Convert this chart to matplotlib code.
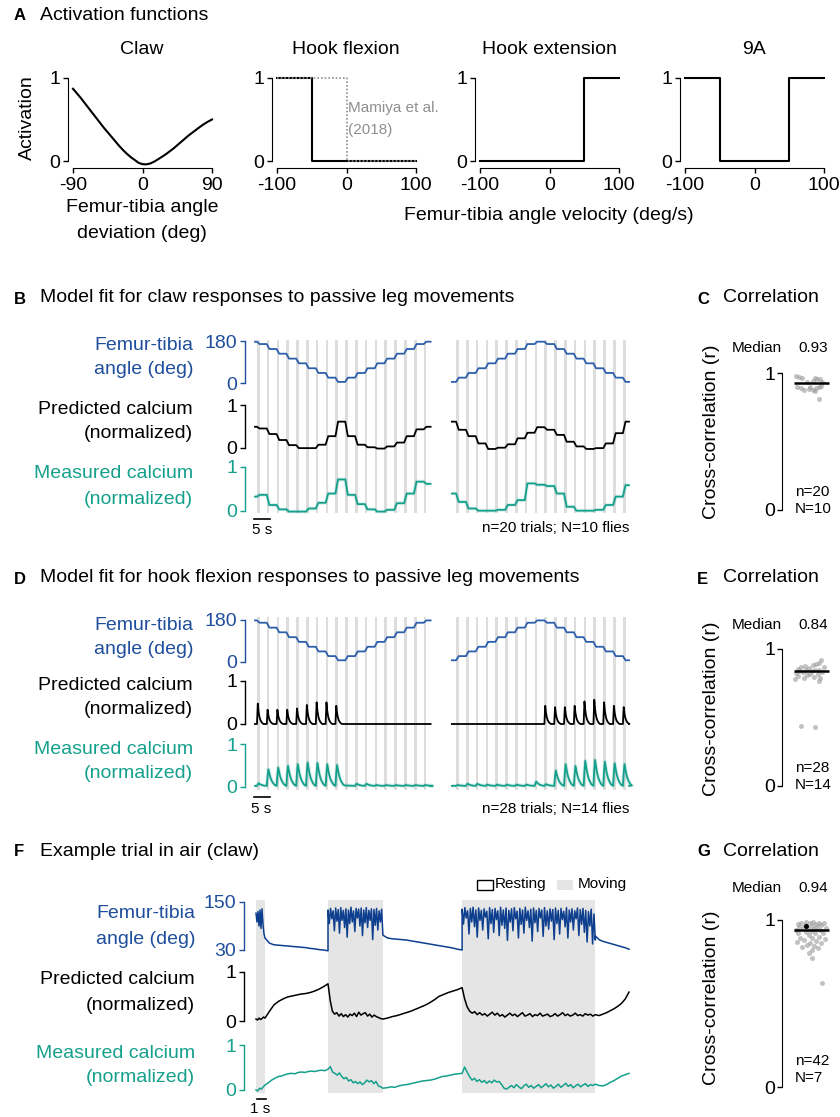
import numpy as np
import matplotlib
matplotlib.use("Agg")
import matplotlib.pyplot as plt
from matplotlib.patches import Rectangle

plt.rcParams['font.family'] = ['Liberation Sans', 'DejaVu Sans']
plt.rcParams['axes.unicode_minus'] = False

# ======================= DATA =======================
# --- A: activation functions ---
claw_dev = [-90, -85, -80, -75, -70, -65, -60, -55, -50, -45, -40, -35, -30, -25, -20, -15, -10,
            -5, 0, 5, 10, 15, 20, 25, 30, 35, 40, 45, 50, 55, 60, 65, 70, 75, 80, 85, 90]
claw_act = [0.87, 0.815, 0.76, 0.70, 0.64, 0.58, 0.52, 0.46, 0.40, 0.345, 0.29, 0.235, 0.18,
            0.13, 0.085, 0.045, 0.012, -0.022, -0.038, -0.04, -0.03, -0.008, 0.02, 0.05, 0.08,
            0.115, 0.15, 0.19, 0.23, 0.27, 0.31, 0.345, 0.38, 0.415, 0.447, 0.475, 0.50]
flex_vel = [-100, -50, -50, 100]
flex_act = [1, 1, 0, 0]
mamiya_vel = [-100, 0, 0, 100]
mamiya_act = [1, 1, 0, 0]
ext_vel = [-100, 50, 50, 100]
ext_act = [0, 0, 1, 1]
a9_vel = [-100, -50, -50, 50, 50, 100]
a9_act = [1, 1, 0, 0, 1, 1]

# --- B / D: passive movement protocol (time in s) ---
block_start = [0.0, 60.2]
block_end = [53.7, 114.37]
first_move = [0.6, 61.5]
move_period = 3.0
n_moves = 18
move_dur = 0.8

B_angle = [[177, 167, 146, 126, 105, 85, 64, 44, 24, 6, 24, 44, 64, 85, 105, 126, 146, 167, 177],
           [6, 24, 44, 64, 85, 105, 126, 146, 167, 177, 167, 146, 126, 105, 85, 64, 44, 24, 6]]
B_pred = [[0.49, 0.45, 0.32, 0.18, 0.06, -0.01, -0.01, 0.07, 0.27, 0.61, 0.27, 0.07, 0.01, -0.02,
           0.03, 0.12, 0.27, 0.43, 0.49],
          [0.61, 0.42, 0.27, 0.10, -0.03, 0.0, 0.08, 0.22, 0.35, 0.48, 0.42, 0.30, 0.14, 0.03,
           -0.03, -0.01, 0.10, 0.34, 0.61]]
B_meas = [[0.32, 0.36, 0.13, 0.03, -0.02, -0.02, 0.05, 0.18, 0.39, 0.71, 0.36, 0.15, 0.03, -0.02,
           0.02, 0.17, 0.39, 0.66, 0.61],
          [0.39, 0.20, 0.05, 0.0, 0.0, 0.02, 0.13, 0.24, 0.62, 0.59, 0.56, 0.39, 0.09, 0.0, 0.0,
           0.02, 0.13, 0.32, 0.58]]

D_angle = B_angle
D_pred_peaks = [[0.47, 0.33, 0.33, 0.33, 0.36, 0.44, 0.50, 0.50, 0.42, 0, 0, 0, 0, 0, 0, 0, 0, 0],
                [0, 0, 0, 0, 0, 0, 0, 0, 0, 0.42, 0.39, 0.39, 0.42, 0.52, 0.56, 0.50, 0.42, 0.39]]
D_meas_peaks = [[0.06, 0.39, 0.43, 0.47, 0.51, 0.55, 0.54, 0.51, 0.49, 0, 0.05, 0.05, 0.02, 0.02,
                 0.02, 0.02, 0.02, 0.02],
                [0.02, 0.05, 0.05, 0.03, 0.03, 0.03, 0.03, 0.03, 0.10, 0.04, 0.36, 0.51, 0.47, 0.59,
                 0.61, 0.57, 0.53, 0.51]]
pred_kernel = [0, 1.0, 0.6, 0.36, 0.22, 0.13, 0.07, 0.03, 0.0]
meas_kernel = [0, 0.6, 1.0, 0.78, 0.58, 0.43, 0.31, 0.22, 0.15, 0.09, 0.05, 0.02]
kernel_dt = 0.25
D_meas_base = 0.02

# --- C / E / G: cross-correlation ---
C_r = [0.976, 0.971, 0.964, 0.964, 0.959, 0.954, 0.94, 0.935, 0.935, 0.898, 0.891, 0.874, 0.886,
       0.898, 0.874, 0.891, 0.898, 0.905, 0.867, 0.809]
C_x = [0.06, 0.13, 0.23, 0.59, 0.66, 0.74, 0.53, 0.36, 0.81, 0.08, 0.20, 0.28, 0.42, 0.47, 0.55,
       0.64, 0.72, 0.78, 0.60, 0.72]
C_median = 0.93
E_r = [0.92, 0.90, 0.89, 0.88, 0.875, 0.87, 0.865, 0.86, 0.855, 0.85, 0.85, 0.845, 0.84, 0.84,
       0.835, 0.83, 0.825, 0.82, 0.815, 0.81, 0.80, 0.795, 0.79, 0.785, 0.78, 0.77, 0.44, 0.43]
E_x = [0.78, 0.72, 0.64, 0.55, 0.30, 0.20, 0.85, 0.42, 0.10, 0.60, 0.33, 0.72, 0.15, 0.50, 0.80,
       0.25, 0.05, 0.68, 0.45, 0.38, 0.12, 0.57, 0.75, 0.28, 0.02, 0.70, 0.19, 0.59]
E_median = 0.84
G_r = [0.99, 0.99, 0.985, 0.985, 0.98, 0.98, 0.975, 0.975, 0.97, 0.97, 0.965, 0.96, 0.96, 0.955,
       0.95, 0.95, 0.945, 0.94, 0.94, 0.935, 0.93, 0.925, 0.92, 0.92, 0.91, 0.90, 0.895, 0.89,
       0.885, 0.88, 0.875, 0.87, 0.865, 0.86, 0.85, 0.845, 0.84, 0.83, 0.82, 0.80, 0.77, 0.62]
G_x = [0.35, 0.55, 0.20, 0.70, 0.45, 0.85, 0.10, 0.62, 0.30, 0.78, 0.50, 0.15, 0.66, 0.40, 0.90,
       0.25, 0.58, 0.05, 0.74, 0.48, 0.33, 0.82, 0.12, 0.60, 0.42, 0.70, 0.18, 0.52, 0.88, 0.28,
       0.64, 0.08, 0.46, 0.76, 0.38, 0.56, 0.22, 0.68, 0.50, 0.42, 0.52, 0.80]
G_median = 0.94
G_example_x, G_example_r = 0.34, 0.966

# --- F: example trial in air (time in s) ---
F_move_start = [0.0, 8.0, 22.9]
F_move_end = [1.0, 14.1, 37.7]
F_end = 41.44
F_ang = [
    [122, 100, 126, 90, 130, 84, 133, 95, 70, 60],
    [60, 47, 43, 42, 41, 40, 39, 38, 37, 36, 34, 33, 31, 30, 28],
    [130, 96, 134, 108, 128, 78, 135, 102, 131, 72, 136, 104, 129, 86, 133, 62, 130, 96, 137, 100,
     128, 76, 134, 110, 132, 90, 135, 66, 130, 98, 136, 86, 129, 104, 133, 56, 131, 92, 134, 80,
     128, 100, 132, 68],
    [67, 60, 58, 57, 56, 55, 53, 51, 49, 47, 45, 43, 41, 39, 37, 35, 32, 30],
    [132, 95, 136, 110, 128, 70, 134, 100, 137, 88, 130, 62, 135, 104, 129, 80, 133, 112, 127, 58,
     136, 96, 131, 74, 134, 106, 128, 66, 137, 92, 130, 84, 135, 54, 129, 100, 133, 78, 136, 108,
     127, 60, 134, 94, 130, 72, 137, 104, 128, 86, 132, 52, 135, 98, 129, 76, 134, 110, 130, 64,
     136, 90, 128, 82, 133, 102, 131, 56, 135, 96, 129, 70, 134, 106, 127, 88, 136, 60, 130, 100,
     133, 80, 128, 108, 135, 66, 131, 94, 134, 74, 129, 50, 126, 90, 132, 45, 120, 55],
    [65, 55, 51, 48, 45, 42, 39, 36, 32],
]
F_pred = [
    [0.04, 0.02, 0.06, 0.03, 0.05, 0.08, 0.06],
    [0.06, 0.20, 0.33, 0.40, 0.45, 0.49, 0.51, 0.53, 0.55, 0.56, 0.58, 0.61, 0.65, 0.70, 0.76],
    [0.76, 0.42, 0.20, 0.14, 0.17, 0.10, 0.15, 0.09, 0.13, 0.08, 0.14, 0.11, 0.16, 0.09, 0.18,
     0.12, 0.15, 0.17, 0.10, 0.14, 0.08, 0.12, 0.09, 0.07, 0.05, 0.04],
    [0.04, 0.06, 0.09, 0.11, 0.14, 0.17, 0.20, 0.24, 0.28, 0.32, 0.37, 0.43, 0.50, 0.54, 0.58,
     0.61, 0.64, 0.68],
    [0.68, 0.45, 0.29, 0.20, 0.16, 0.19, 0.13, 0.17, 0.12, 0.15, 0.10, 0.14, 0.18, 0.12, 0.16,
     0.10, 0.13, 0.08, 0.12, 0.16, 0.11, 0.14, 0.09, 0.13, 0.17, 0.10, 0.12, 0.15, 0.09, 0.13,
     0.11, 0.16, 0.10, 0.12, 0.14, 0.09, 0.11, 0.15, 0.10, 0.13, 0.17, 0.11, 0.14, 0.10, 0.12,
     0.16, 0.11, 0.13, 0.10, 0.15, 0.12, 0.14, 0.10, 0.13],
    [0.13, 0.11, 0.14, 0.17, 0.21, 0.25, 0.30, 0.36, 0.45, 0.59],
]
F_meas = [
    [0.0, -0.02, 0.04, 0.02, 0.07, 0.11],
    [0.11, 0.16, 0.22, 0.26, 0.30, 0.31, 0.34, 0.36, 0.37, 0.36, 0.39, 0.40, 0.39, 0.41, 0.42,
     0.41, 0.43, 0.44, 0.43, 0.46],
    [0.46, 0.52, 0.40, 0.37, 0.33, 0.38, 0.30, 0.25, 0.28, 0.20, 0.23, 0.16, 0.19, 0.14, 0.18,
     0.12, 0.16, 0.22, 0.18, 0.21, 0.14, 0.19, 0.09, 0.07, 0.04],
    [0.04, 0.05, 0.07, 0.06, 0.09, 0.11, 0.12, 0.14, 0.16, 0.18, 0.20, 0.21, 0.22, 0.24, 0.27,
     0.30, 0.31, 0.33, 0.35, 0.36, 0.37],
    [0.37, 0.51, 0.40, 0.30, 0.22, 0.26, 0.19, 0.23, 0.17, 0.21, 0.15, 0.20, 0.16, 0.22, 0.18,
     0.19, 0.12, 0.04, 0.02, 0.06, 0.10, 0.05, 0.12, 0.07, 0.03, 0.09, 0.13, 0.06, 0.10, 0.04,
     0.08, 0.12, 0.05, 0.09, 0.14, 0.07, 0.11, 0.04, 0.08, 0.13, 0.06, 0.10, 0.15, 0.08, 0.12,
     0.05, 0.09, 0.13, 0.07, 0.11, 0.14, 0.08, 0.12, 0.10, 0.13],
    [0.13, 0.10, 0.09, 0.12, 0.17, 0.21, 0.26, 0.31, 0.34, 0.37],
]

# ======================= STYLE =======================
W, H = 840, 1117
PT = 0.72
FS = 14
FSS = 11
BLUE_T = '#1f4e9c'
BLUE_L = '#2c5fab'
BLUE_F = '#0d3f8e'
TEAL = '#14a08b'
GREYL = '#dddddd'
SHADE = '#e5e5e5'

fig = plt.figure(figsize=(W / 100, H / 100), dpi=100)
fig.patch.set_facecolor('white')


def axpx(x0, y0, x1, y1):
    ax = fig.add_axes([x0 / W, 1 - y1 / H, (x1 - x0) / W, (y1 - y0) / H])
    ax.patch.set_alpha(0)
    return ax


# ======================= A =======================
def act_ax(left, lo, hi, ticks):
    ax = axpx(left, 76.3, left + 139, 166.0)
    ax.set_xlim(lo, hi)
    ax.set_ylim(-0.06, 1.02)
    for s in ('top', 'right'):
        ax.spines[s].set_visible(False)
    ax.spines['left'].set_position(('outward', 5 * PT))
    ax.spines['bottom'].set_position(('outward', 2 * PT))
    ax.spines['left'].set_bounds(0, 1)
    ax.spines['bottom'].set_bounds(lo, hi)
    ax.set_yticks([0, 1])
    ax.set_yticklabels(['0', '1'])
    ax.set_xticks(ticks)
    ax.set_xticklabels([str(t) for t in ticks])
    ax.tick_params(length=5 * PT, width=1.0, labelsize=FS)
    ax.tick_params(axis='y', pad=2)
    ax.tick_params(axis='x', pad=3)
    return ax


ax = act_ax(73, -90, 90, [-90, 0, 90])
ax.plot(claw_dev, claw_act, color='black', lw=1.5, clip_on=False)
ax = act_ax(277, -100, 100, [-100, 0, 100])
ax.plot(flex_vel, flex_act, color='black', lw=1.5, clip_on=False)
ax.plot(mamiya_vel, mamiya_act, color='#8f8f8f', lw=1.2, ls=(0, (1, 1.2)), clip_on=False)
ax = act_ax(480, -100, 100, [-100, 0, 100])
ax.plot(ext_vel, ext_act, color='black', lw=1.5, clip_on=False)
ax = act_ax(685, -100, 100, [-100, 0, 100])
ax.plot(a9_vel, a9_act, color='black', lw=1.5, clip_on=False)


# ======================= helpers for traces =======================
def row_ax(x0, x1, ytop, ybot, lim, ticks, labels, color, spine_x, xlim):
    ax = axpx(x0, ytop, x1, ybot)
    ax.set_xlim(*xlim)
    ax.set_ylim(*lim)
    for s in ('top', 'right', 'bottom'):
        ax.spines[s].set_visible(False)
    sp = ax.spines['left']
    sp.set_position(('outward', (x0 - spine_x) * PT))
    sp.set_bounds(*lim)
    sp.set_color(color)
    sp.set_linewidth(1.0)
    ax.set_xticks([])
    ax.set_yticks(ticks)
    ax.set_yticklabels(labels)
    ax.tick_params(axis='y', colors=color, length=5 * PT, width=1.0, labelsize=FS, pad=2)
    return ax


def moves_of(b):
    return [first_move[b] + k * move_period for k in range(n_moves)]


def step_xy(t0, t1, moves, levels):
    ts, ys = [t0], [levels[0]]
    for i, tm in enumerate(moves):
        ts += [tm, tm + move_dur]
        ys += [levels[i], levels[i + 1]]
    ts.append(t1)
    ys.append(levels[-1])
    return ts, ys


def spike_xy(t0, t1, moves, peaks, kernel, base):
    ts, ys = [t0], [base]
    for tm, p in zip(moves, peaks):
        if p <= 0:
            continue
        for i, k in enumerate(kernel):
            ts.append(tm + i * kernel_dt)
            ys.append(base + p * k)
    ts.append(t1)
    ys.append(base)
    return ts, ys


XL = (0, 114.37)


def passive_section(geo, angle_sets, mode, pred_sets, meas_sets, bar_y):
    bg = axpx(255, geo['bg'][0], 629, geo['bg'][1])
    bg.set_xlim(*XL)
    bg.set_ylim(0, 1)
    bg.axis('off')
    for b in range(2):
        for tm in moves_of(b):
            bg.axvspan(tm, tm + move_dur, color=GREYL, lw=0)
    aa = row_ax(255, 629, geo['ang'][0], geo['ang'][1], (0, 180), [0, 180], ['0', '180'],
                BLUE_T, 245, XL)
    ap = row_ax(255, 629, geo['pred'][0], geo['pred'][1], (0, 1), [0, 1], ['0', '1'],
                'black', 245, XL)
    am = row_ax(255, 629, geo['meas'][0], geo['meas'][1], (0, 1), [0, 1], ['0', '1'],
                TEAL, 245, XL)
    for b in range(2):
        mv = moves_of(b)
        t0, t1 = block_start[b], block_end[b]
        ts, ys = step_xy(t0, t1, mv, angle_sets[b])
        aa.plot(ts, ys, color=BLUE_L, lw=1.3, clip_on=False)
        if mode == 'step':
            ts, ys = step_xy(t0, t1, mv, pred_sets[b])
            ap.plot(ts, ys, color='black', lw=1.3, clip_on=False)
            ts, ys = step_xy(t0, t1, mv, meas_sets[b])
        else:
            ts, ys = spike_xy(t0, t1, mv, pred_sets[b], pred_kernel, 0.0)
            ap.plot(ts, ys, color='black', lw=1.3, clip_on=False)
            ts, ys = spike_xy(t0, t1, mv, meas_sets[b], meas_kernel, D_meas_base)
        am.plot(ts, ys, color=TEAL, lw=2.8, alpha=0.15, clip_on=False, solid_capstyle='butt')
        am.plot(ts, ys, color=TEAL, lw=1.3, clip_on=False)
    am.plot([-0.3, 4.7], [bar_y, bar_y], color='black', lw=1.2, clip_on=False)


passive_section({'bg': (340, 513), 'ang': (341, 383.3), 'pred': (405, 447.7),
                 'meas': (466.7, 510.7)}, B_angle, 'step', B_pred, B_meas, -0.19)
passive_section({'bg': (617, 790), 'ang': (619.7, 661.7), 'pred': (680.7, 724),
                 'meas': (744.3, 786.7)}, D_angle, 'spike', D_pred_peaks, D_meas_peaks, -0.236)


# ======================= correlation panels =======================
def corr_panel(ytop, ybot, xs, rs, med, example=None):
    ax = axpx(794, ytop, 829, ybot)
    ax.set_xlim(0, 1)
    ax.set_ylim(0, 1)
    for s in ('top', 'right', 'bottom'):
        ax.spines[s].set_visible(False)
    ax.spines['left'].set_position(('outward', 12 * PT))
    ax.spines['left'].set_bounds(0, 1)
    ax.set_xticks([])
    ax.set_yticks([0, 1])
    ax.set_yticklabels(['0', '1'])
    ax.tick_params(axis='y', length=5 * PT, width=1.0, labelsize=FS, pad=1.5)
    ax.scatter(xs, rs, s=13, color='#9a9a9a', alpha=0.6, lw=0, clip_on=False, zorder=2)
    if example is not None:
        ax.scatter([example[0]], [example[1]], s=13, color='black', lw=0, zorder=4, clip_on=False)
    ax.plot([0, 1], [med, med], color='black', lw=1.8, zorder=3, clip_on=False,
            solid_capstyle='butt')
    return ax


corr_panel(373, 510, C_x, C_r, C_median)
corr_panel(649, 786, E_x, E_r, E_median)
corr_panel(920, 1087, G_x, G_r, G_median, (G_example_x, G_example_r))

# ======================= F =======================
FXL = (0, F_end)
bgF = axpx(256, 900, 629, 1093)
bgF.set_xlim(*FXL)
bgF.set_ylim(0, 1)
bgF.axis('off')
for a, b in zip(F_move_start, F_move_end):
    bgF.axvspan(a, b, color=SHADE, lw=0)

seg_bounds = [(F_move_start[0], F_move_end[0]), (F_move_end[0], F_move_start[1]),
              (F_move_start[1], F_move_end[1]), (F_move_end[1], F_move_start[2]),
              (F_move_start[2], F_move_end[2]), (F_move_end[2], F_end)]


def seg_xy(pieces):
    ts, ys = [], []
    for (a, b), vals in zip(seg_bounds, pieces):
        ts.extend(np.linspace(a, b, len(vals)))
        ys.extend(vals)
    return ts, ys


fa = row_ax(256, 629, 902, 950, (30, 150), [30, 150], ['30', '150'], BLUE_T, 244, FXL)
fp = row_ax(256, 629, 972, 1021, (0, 1), [0, 1], ['0', '1'], 'black', 244, FXL)
fm = row_ax(256, 629, 1045, 1090, (0, 1), [0, 1], ['0', '1'], TEAL, 244, FXL)
ts, ys = seg_xy(F_ang)
fa.plot(ts, ys, color=BLUE_F, lw=1.1, clip_on=False)
ts, ys = seg_xy(F_pred)
fp.plot(ts, ys, color='black', lw=1.1, clip_on=False)
ts, ys = seg_xy(F_meas)
fm.plot(ts, ys, color=TEAL, lw=1.1, clip_on=False)
fm.plot([0.1, 1.1], [-0.2, -0.2], color='black', lw=1.2, clip_on=False)

# ======================= text overlay =======================
ov = fig.add_axes([0, 0, 1, 1])
ov.set_xlim(0, W)
ov.set_ylim(H, 0)
ov.axis('off')
ov.patch.set_alpha(0)


def T(x, y, s, ha='left', color='black', size=FS, weight='normal', rot=0):
    ov.text(x, y, s, ha=ha, va='center', color=color, fontsize=size, fontweight=weight,
            rotation=rot)


# headers
for letter, title, x, y in [('A', 'Activation functions', 14, 15),
                            ('B', 'Model fit for claw responses to passive leg movements', 14, 298),
                            ('C', 'Correlation', 697, 298),
                            ('D', 'Model fit for hook flexion responses to passive leg movements', 14, 578),
                            ('E', 'Correlation', 697, 578),
                            ('F', 'Example trial in air (claw)', 14, 851),
                            ('G', 'Correlation', 697, 851)]:
    T(x, y + 1, letter, size=FSS + 1, weight='bold')
    T(x + 26, y, title)

# panel A
T(142, 50, 'Claw', ha='center')
T(346, 50, 'Hook flexion', ha='center')
T(549, 50, 'Hook extension', ha='center')
T(754, 50, '9A', ha='center')
T(27, 118, 'Activation', ha='center', rot=90)
T(142, 207, 'Femur-tibia angle', ha='center')
T(142, 233, 'deviation (deg)', ha='center')
T(549, 216, 'Femur-tibia angle velocity (deg/s)', ha='center')
T(348, 108, 'Mamiya et al.', color='#8f8f8f', size=FSS)
T(348, 130, '(2018)', color='#8f8f8f', size=FSS)

# trace row labels
for yb, ya, yp1, yp2, ym1, ym2, xr in [(345, 370, 409, 434, 474, 500, 193),
                                        (625, 650, 685, 710, 749, 774, 193),
                                        (913, 940, 980, 1005, 1053, 1078, 195)]:
    T(xr, yb, 'Femur-tibia', ha='right', color=BLUE_T)
    T(xr, ya, 'angle (deg)', ha='right', color=BLUE_T)
    T(xr, yp1, 'Predicted calcium', ha='right')
    T(xr, yp2, '(normalized)', ha='right')
    T(xr, ym1, 'Measured calcium', ha='right', color=TEAL)
    T(xr, ym2, '(normalized)', ha='right', color=TEAL)

# scale bars / counts
T(262, 530, '5 s', ha='center', size=FSS)
T(629, 528, 'n=20 trials; N=10 flies', ha='right', size=FSS)
T(261, 809, '5 s', ha='center', size=FSS)
T(629, 809, 'n=28 trials; N=14 flies', ha='right', size=FSS)
T(260, 1109, '1 s', ha='center', size=FSS)

# correlation panel texts
for ymed, med, yn, nn, NN, ylab in [(348, '0.93', 492, 'n=20', 'N=10', 432),
                                    (625, '0.84', 768, 'n=28', 'N=14', 709),
                                    (888, '0.94', 1061, 'n=42', 'N=7', 998)]:
    T(757, ymed, 'Median', ha='center', size=FSS)
    T(813, ymed, med, ha='center', size=FSS)
    T(795, yn, nn, size=FSS)
    T(795, yn + 17, NN, size=FSS)
    T(712, ylab, 'Cross-correlation (r)', ha='center', rot=90)

# legend in F
ov.add_patch(Rectangle((477, 880), 16, 10, facecolor='white', edgecolor='black', lw=1.0))
T(495, 884, 'Resting', size=FSS)
ov.add_patch(Rectangle((557, 880), 16, 10, facecolor=SHADE, edgecolor='none'))
T(578, 884, 'Moving', size=FSS)

fig.savefig('out.png', dpi=100)
